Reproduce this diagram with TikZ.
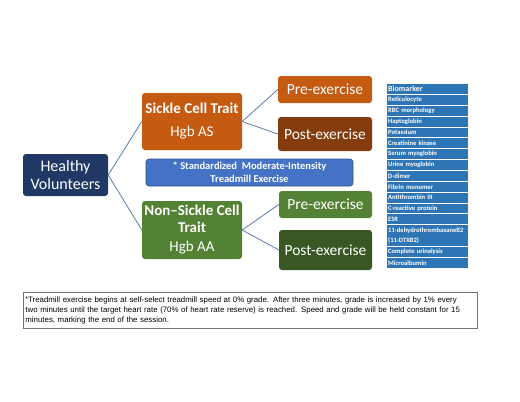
\documentclass[tikz,border=0pt]{standalone}
\usepackage{fontspec}
\setmainfont{Carlito}
\newfontfamily\notefont{Liberation Sans}
\usetikzlibrary{positioning}
\definecolor{navy}{HTML}{203864}
\definecolor{sctorange}{HTML}{C55A11}
\definecolor{sctbrown}{HTML}{843C0C}
\definecolor{nsgreen}{HTML}{548235}
\definecolor{nsdark}{HTML}{385723}
\definecolor{exblue}{HTML}{4472C4}
\definecolor{tabblue}{HTML}{2E75B6}
\definecolor{linkblue}{HTML}{5B7BAE}
\tikzset{
    box/.style={rounded corners=3pt, text=white, inner sep=0pt, align=center},
    link/.style={draw=linkblue, line width=0.8pt},
    tabrow/.style={fill=tabblue, text=white, anchor=north west, minimum width=81pt,
        text width=79pt, inner sep=0pt, inner xsep=1pt, align=left,
        font=\bfseries\fontsize{6.6}{9}\selectfont},
}

\begin{document}
\begin{tikzpicture}[x=1pt, y=-1pt]
    \useasboundingbox[fill=white] (0,0) rectangle (520,402);

    % tree
    \node[box, fill=navy, minimum width=85pt, minimum height=42pt,
        font=\fontsize{16}{18}\selectfont] (healthy) at (65.5,175) {Healthy\\Volunteers};
    \node[box, fill=sctorange, minimum width=100pt, minimum height=57pt,
        font=\fontsize{15}{23}\selectfont] (sct) at (192,121.5) {\textbf{Sickle Cell Trait}\\Hgb AS};
    \node[box, fill=sctorange, minimum width=94pt, minimum height=27pt,
        font=\fontsize{15.5}{18}\selectfont] (scpre) at (325,89.5) {Pre-exercise};
    \node[box, fill=sctbrown, minimum width=94pt, minimum height=34pt,
        font=\fontsize{15.5}{18}\selectfont] (scpost) at (325,134) {Post-exercise};
    \node[box, fill=exblue, draw=exblue!70!black, line width=0.6pt, minimum width=207pt, minimum height=27pt,
        font=\bfseries\fontsize{10.5}{13}\selectfont] (exer) at (249.5,172.5) {* Standardized~ Moderate-Intensity\\Treadmill Exercise};
    \node[box, fill=nsgreen, minimum width=100pt, minimum height=58pt,
        font=\fontsize{15}{16.5}\selectfont] (nsct) at (192,230) {\textbf{Non--Sickle Cell}\\\textbf{Trait}\\[3pt]Hgb AA};
    \node[box, fill=nsgreen, minimum width=93pt, minimum height=27pt,
        font=\fontsize{15.5}{18}\selectfont] (nspre) at (325.5,204.5) {Pre-exercise};
    \node[box, fill=nsdark, minimum width=93pt, minimum height=40pt,
        font=\fontsize{15.5}{18}\selectfont] (nspost) at (325.5,250) {Post-exercise};

    \draw[link] (healthy.east) -- (sct.west);
    \draw[link] (healthy.east) -- (nsct.west);
    \draw[link] (sct.east) -- (scpre.west);
    \draw[link] (sct.east) -- (scpost.west);
    \draw[link] (nsct.east) -- (nspre.west);
    \draw[link] (nsct.east) -- (nspost.west);

    % biomarker table
    \node[tabrow, minimum height=9.85pt, font=\bfseries\fontsize{8}{9}\selectfont] (bmhead) at (387,84) {Biomarker};
    \foreach \i/\n/\txt in {1/1/Reticulocyte, 2/1/RBC morphology, 3/1/Haptoglobin, 4/1/Potassium,
        5/1/Creatinine kinase, 6/1/Serum myoglobin, 7/1/Urine myoglobin, 8/1/D-dimer,
        9/1/Fibrin monomer, 10/1/Antithrombin III, 11/1/C-reactive protein, 12/1/ESR,
        13/2/{11-dehydrothrombaxaneB2\\[1pt](11-DTXB2)}, 15/1/Complete urinalysis, 16/1/Microalbumin}
        \node[tabrow, minimum height=\n*10.85pt-1pt] (bm\i) at (387,84+\i*10.85) {\txt};

    % footnote
    \node[draw=black!55, line width=0.9pt, anchor=north west, minimum width=454pt, minimum height=36pt,
        text width=450pt, inner sep=2pt, align=left,
        font=\notefont\fontsize{7.85}{10}\selectfont] (note) at (23,292)
        {\raisebox{1.5pt}{\scriptsize*}Treadmill exercise begins at self-select treadmill speed at 0\% grade. After three minutes, grade is increased by 1\% every\\
        two minutes until the target heart rate (70\% of heart rate reserve) is reached. Speed and grade will be held constant for 15\\
        minutes, marking the end of the session.};
\end{tikzpicture}
\end{document}
